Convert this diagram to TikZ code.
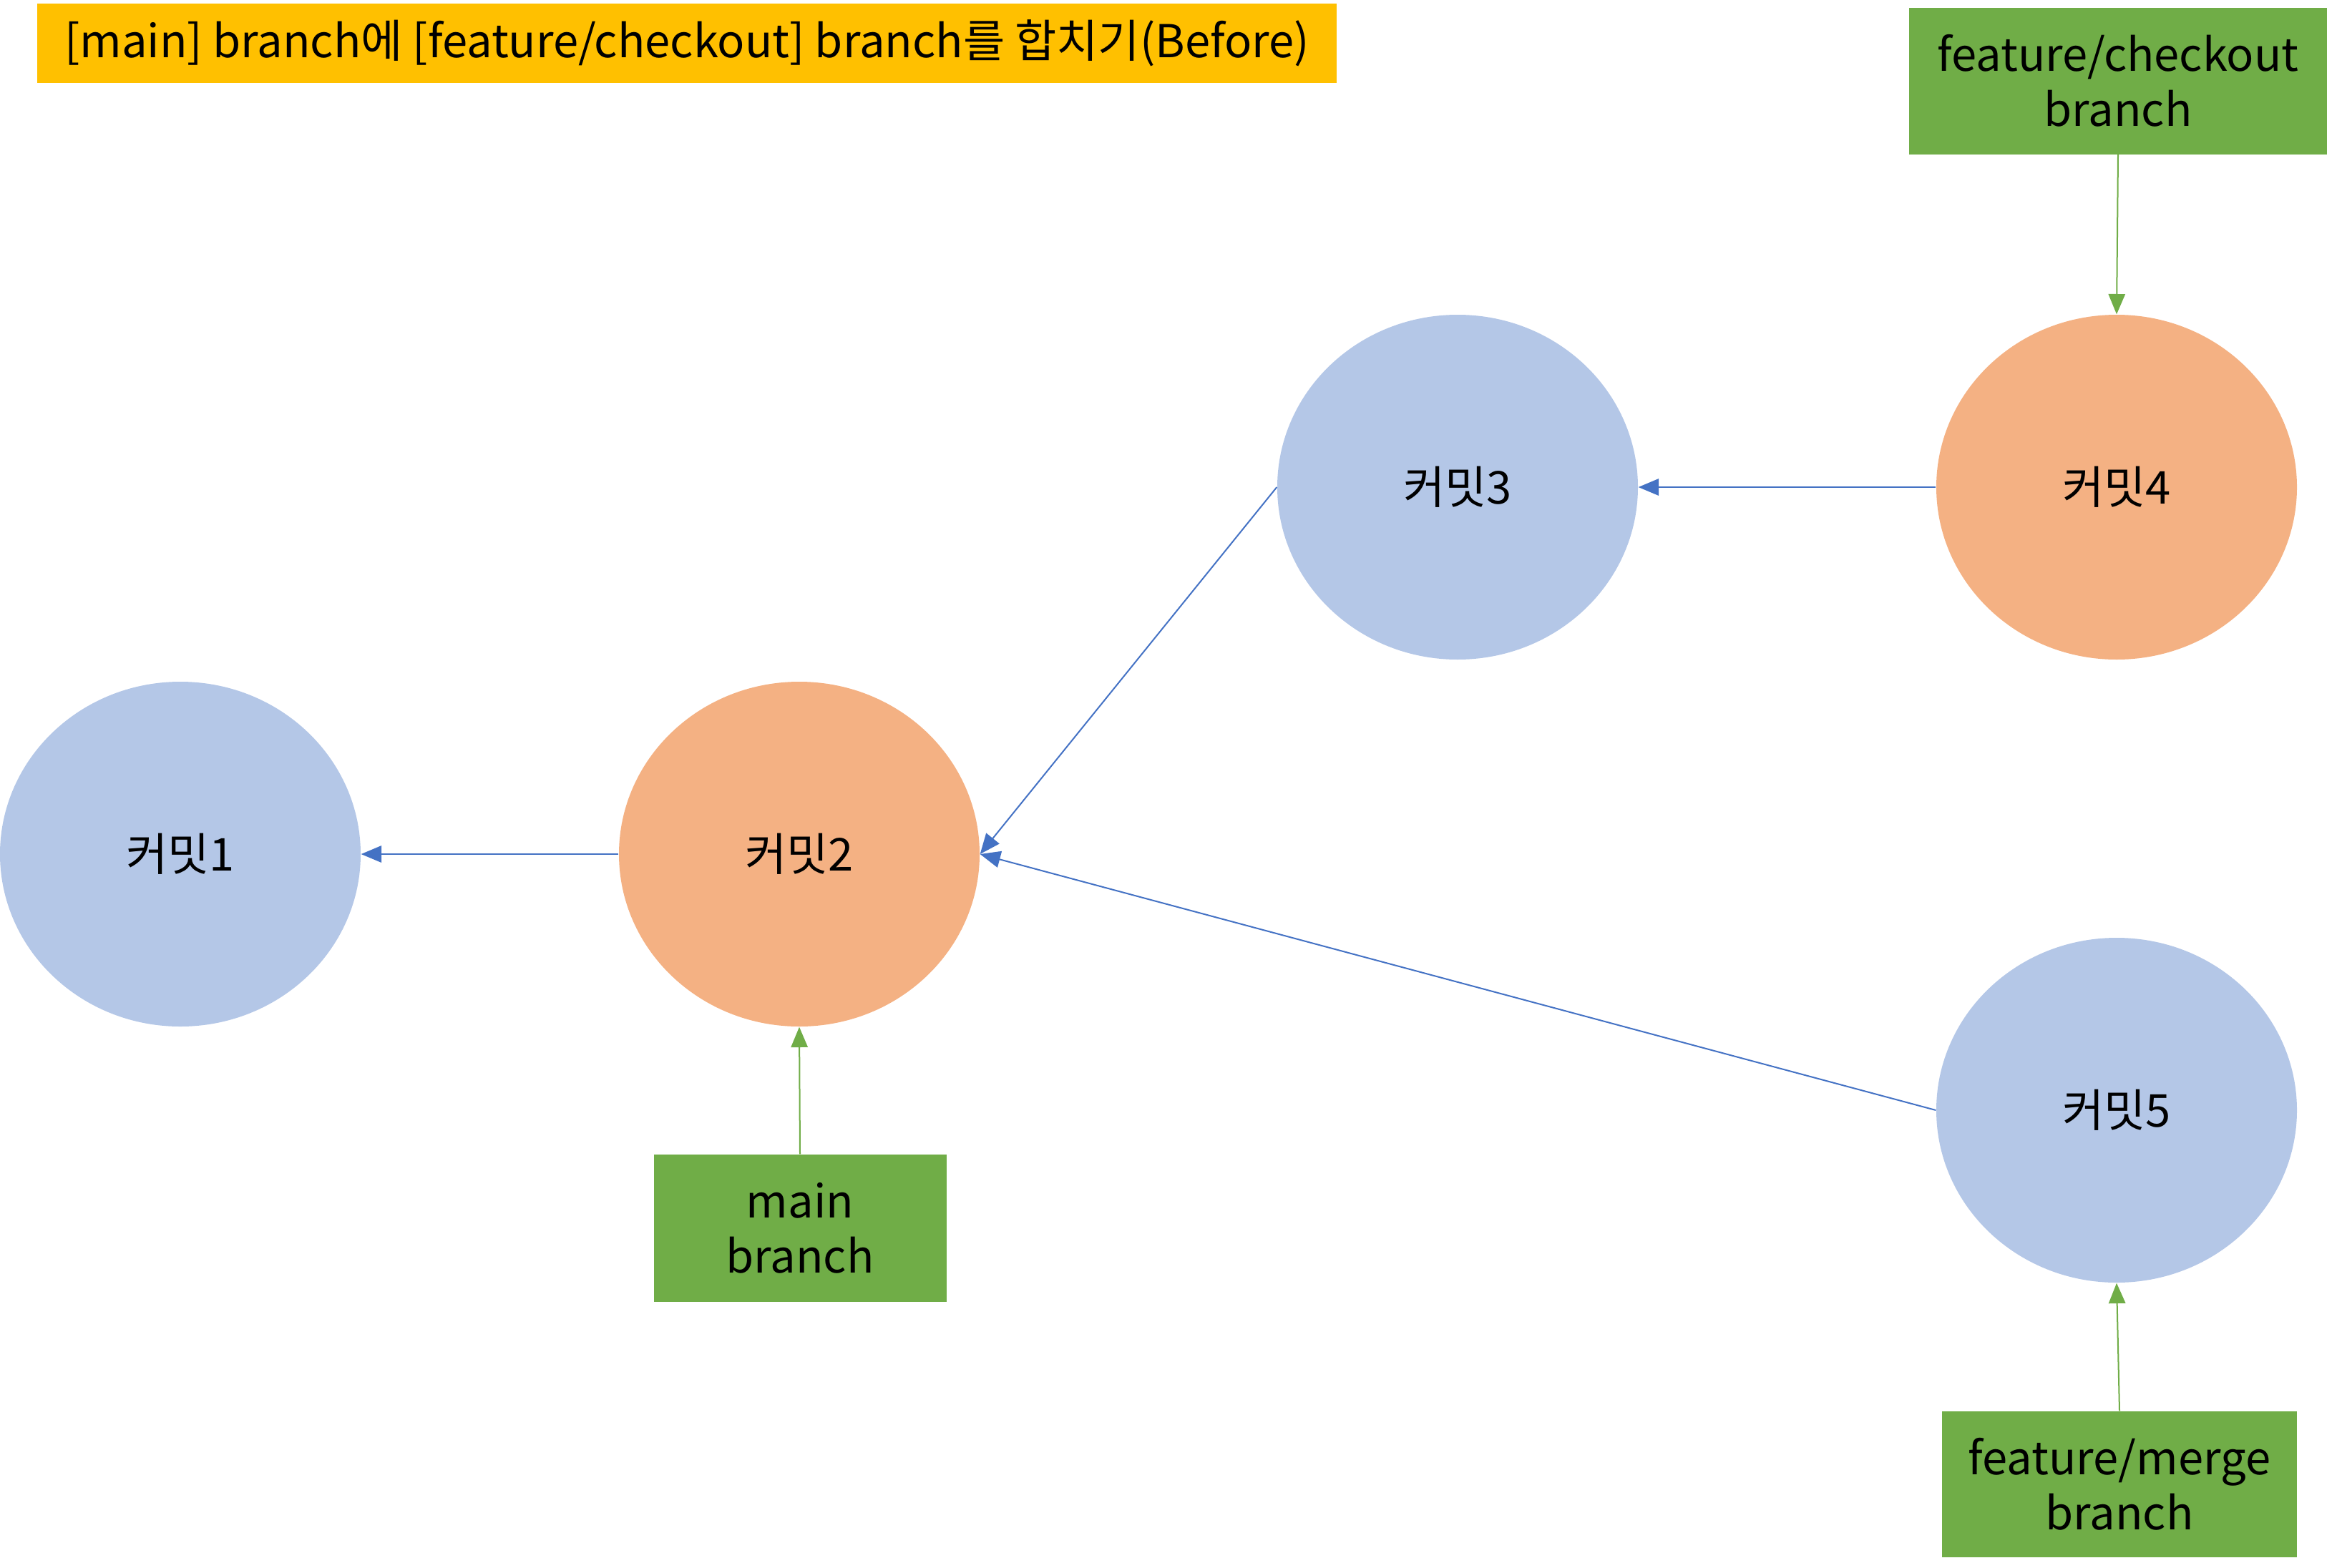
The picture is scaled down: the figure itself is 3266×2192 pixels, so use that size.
\documentclass[tikz,border=0pt]{standalone}
\usepackage{fontspec}
\setmainfont{Noto Sans CJK KR}
\usetikzlibrary{shapes.geometric,arrows.meta}
\definecolor{cblue}{HTML}{B4C7E7}
\definecolor{corange}{HTML}{F4B183}
\definecolor{cgreen}{HTML}{70AD47}
\definecolor{cyellow}{HTML}{FFC000}
\definecolor{carrow}{HTML}{4472C4}
\begin{document}
\begin{tikzpicture}[x=0.3pt,y=-0.3pt,
  every node/.style={font=\fontsize{19}{23}\selectfont, inner sep=0pt, align=center},
  commit/.style={ellipse, minimum width=151.2pt, minimum height=144.6pt},
  bluec/.style={commit, fill=cblue},
  orangec/.style={commit, fill=corange},
  branchbox/.style={rectangle, fill=cgreen},
  parent/.style={draw=carrow, line width=0.6pt, -{Triangle[length=8.5pt,width=7pt]}},
  pointer/.style={draw=cgreen, line width=0.6pt, -{Triangle[length=8.5pt,width=7pt]}}]
\useasboundingbox (0,0) rectangle (3266,2192);
\node[rectangle, fill=cyellow, minimum width=544.8pt, minimum height=33.3pt] (title) at (960,60) {[main] branch에 [feature/checkout] branch를 합치기(Before)};
\node[bluec] (c1) at (252,1194) {커밋1};
\node[orangec] (c2) at (1117,1194) {커밋2};
\node[bluec] (c3) at (2037,681) {커밋3};
\node[orangec] (c4) at (2958,681) {커밋4};
\node[bluec] (c5) at (2958,1552) {커밋5};
\node[branchbox, minimum width=122.7pt, minimum height=61.8pt] (mainb) at (1118,1717) {main\\branch};
\node[branchbox, minimum width=175.2pt, minimum height=61.5pt] (checkb) at (2960,113) {feature/checkout\\branch};
\node[branchbox, minimum width=148.8pt, minimum height=61.2pt] (mergeb) at (2962,2075) {feature/merge\\branch};
\draw[parent] (c2.west) -- (c1.east);
\draw[parent] (c4.west) -- (c3.east);
\draw[parent] (c3.west) -- (c2.east);
\draw[parent] (c5.west) -- (c2.east);
\draw[pointer] (mainb.north) -- (c2.south);
\draw[pointer] (checkb.south) -- (c4.north);
\draw[pointer] (mergeb.north) -- (c5.south);
\end{tikzpicture}
\end{document}
